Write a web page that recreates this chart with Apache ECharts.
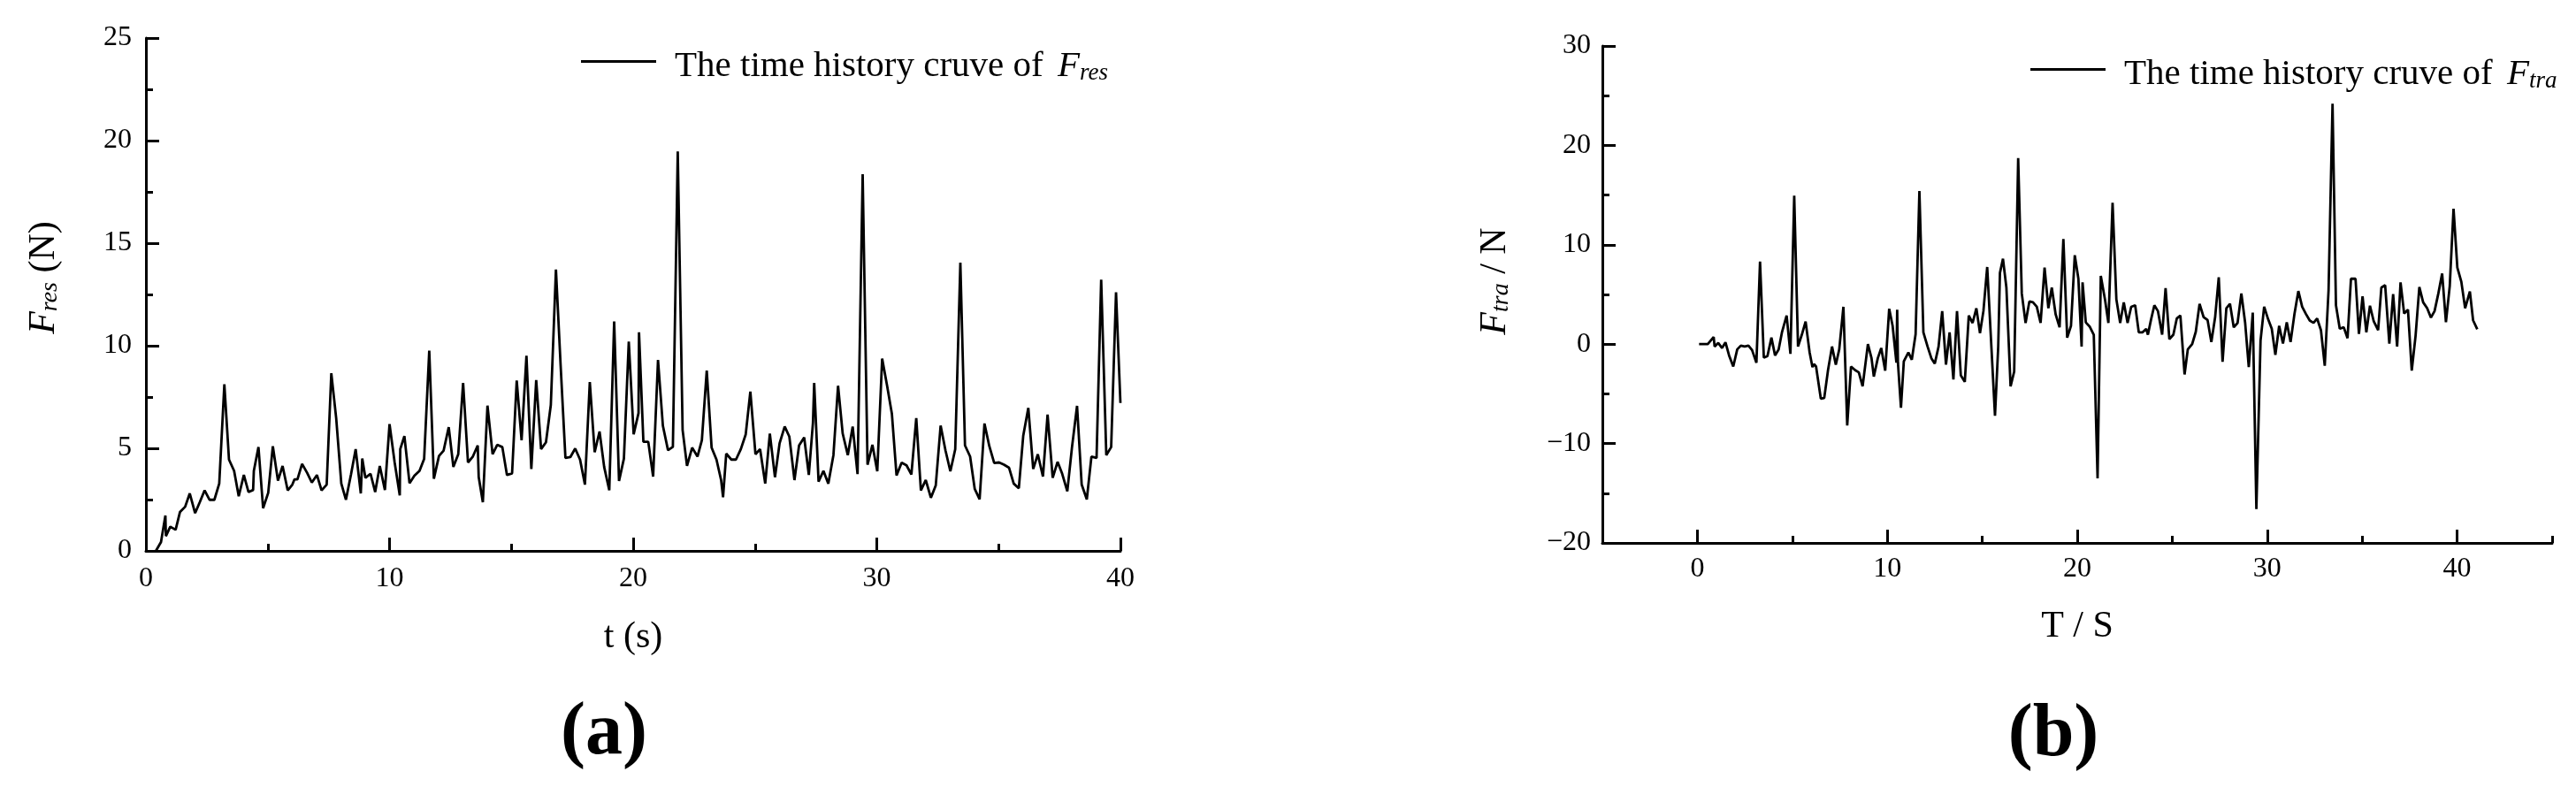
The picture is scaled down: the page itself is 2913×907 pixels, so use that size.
<!DOCTYPE html>
<html lang="en">
<head>
<meta charset="UTF-8">
<title>Time history curves</title>
<script src="https://cdn.jsdelivr.net/npm/echarts@6/dist/echarts.min.js"></script>
<style>
    html, body { margin: 0; padding: 0; background: #fff; }
    #main { width: 2913px; height: 907px; }
</style>
</head>
<body>
<div id="main"></div>
<script>
    // (a) resistance force
    var tRes = [0.41, 0.62, 0.80, 0.82, 1.00, 1.22, 1.40, 1.61, 1.80, 2.02, 2.21, 2.41, 2.61, 2.81, 3.01, 3.22, 3.41, 3.62, 3.81, 4.02,
        4.21, 4.40, 4.43, 4.62, 4.81, 5.02, 5.21, 5.42, 5.61, 5.82, 6.01, 6.10, 6.22, 6.41, 6.62, 6.81, 7.02, 7.21, 7.42, 7.61,
        7.81, 8.02, 8.21, 8.42, 8.61, 8.82, 8.88, 9.01, 9.22, 9.41, 9.60, 9.81, 10.00, 10.21, 10.42, 10.44, 10.61, 10.82, 11.02, 11.23,
        11.42, 11.63, 11.82, 12.03, 12.22, 12.43, 12.62, 12.82, 13.02, 13.22, 13.42, 13.62, 13.66, 13.83, 14.02, 14.23, 14.42, 14.63, 14.82, 15.03,
        15.22, 15.42, 15.62, 15.82, 16.02, 16.22, 16.42, 16.62, 16.83, 17.02, 17.22, 17.42, 17.62, 17.82, 18.02, 18.22, 18.42, 18.62, 18.81, 19.02,
        19.22, 19.42, 19.62, 19.82, 20.02, 20.22, 20.24, 20.42, 20.62, 20.82, 21.02, 21.22, 21.43, 21.63, 21.83, 22.03, 22.21, 22.42, 22.64, 22.82,
        23.02, 23.22, 23.42, 23.61, 23.69, 23.82, 24.03, 24.22, 24.42, 24.62, 24.81, 25.02, 25.21, 25.42, 25.61, 25.82, 26.01, 26.22, 26.41, 26.62,
        26.81, 27.02, 27.21, 27.38, 27.43, 27.61, 27.81, 28.01, 28.22, 28.41, 28.60, 28.81, 29.01, 29.21, 29.42, 29.62, 29.82, 30.02, 30.22, 30.42,
        30.62, 30.81, 31.02, 31.22, 31.42, 31.62, 31.81, 32.01, 32.22, 32.42, 32.62, 32.82, 33.02, 33.22, 33.43, 33.62, 33.83, 34.02, 34.22, 34.42,
        34.62, 34.82, 35.02, 35.22, 35.43, 35.62, 35.83, 36.01, 36.22, 36.42, 36.61, 36.82, 37.01, 37.22, 37.42, 37.61, 37.82, 38.01, 38.22, 38.41,
        38.62, 38.81, 39.02, 39.21, 39.42, 39.62, 39.82, 40.00];
    var fRes = [0, 0.43, 1.72, 0.72, 1.18, 1.03, 1.9, 2.15, 2.8, 1.84, 2.37, 2.95, 2.49, 2.49, 3.28, 8.12, 4.45, 3.9, 2.66, 3.7,
        2.87, 2.97, 3.9, 5.06, 2.08, 2.83, 5.1, 3.42, 4.14, 2.95, 3.23, 3.49, 3.49, 4.24, 3.8, 3.33, 3.7, 2.95, 3.23, 8.66,
        6.47, 3.28, 2.49, 3.74, 4.96, 2.8, 4.5, 3.56, 3.76, 2.87, 4.14, 2.97, 6.18, 4.31, 2.7, 4.96, 5.6, 3.3, 3.66, 3.9,
        4.48, 9.76, 3.52, 4.63, 4.89, 6.03, 4.09, 4.71, 8.19, 4.31, 4.6, 5.14, 3.6, 2.37, 7.08, 4.71, 5.17, 5.06, 3.7, 3.78,
        8.3, 5.39, 9.51, 3.99, 8.33, 4.96, 5.29, 7.11, 13.72, 9.1, 4.53, 4.57, 4.99, 4.45, 3.23, 8.23, 4.81, 5.82, 4.09, 2.95,
        11.18, 3.41, 4.5, 10.2, 5.68, 6.72, 10.66, 5.32, 5.32, 3.62, 9.31, 6.1, 4.91, 5.07, 19.47, 5.89, 4.14, 5.03, 4.6, 5.39,
        8.79, 5.03, 4.45, 3.45, 2.61, 4.74, 4.45, 4.45, 4.96, 5.68, 7.76, 4.71, 4.96, 3.28, 5.72, 3.59, 5.24, 6.06, 5.57, 3.45,
        5.14, 5.53, 3.7, 6.25, 8.19, 3.38, 3.9, 3.28, 4.67, 8.05, 5.72, 4.67, 6.06, 3.74, 18.36, 4.2, 5.17, 3.88, 9.37, 8.07,
        6.68, 3.68, 4.3, 4.17, 3.72, 6.47, 2.95, 3.45, 2.59, 3.19, 6.11, 4.89, 3.88, 4.96, 14.05, 5.14, 4.6, 3.02, 2.51, 6.21,
        5.1, 4.28, 4.31, 4.2, 4.05, 3.28, 3.05, 5.6, 6.97, 3.99, 4.71, 3.62, 6.64, 3.56, 4.34, 3.76, 2.9, 5.03, 7.07, 3.23,
        2.51, 4.6, 4.53, 13.22, 4.67, 5.06, 12.61, 7.21];

    // (b) traction force
    var tTra = [0.09, 0.55, 0.86, 0.91, 1.10, 1.30, 1.48, 1.67, 1.89, 2.10, 2.29, 2.49, 2.69, 2.88, 3.11, 3.30, 3.50, 3.69, 3.90, 4.09,
        4.28, 4.46, 4.51, 4.70, 4.90, 5.10, 5.30, 5.50, 5.70, 5.91, 6.06, 6.14, 6.25, 6.50, 6.68, 6.88, 7.09, 7.29, 7.47, 7.69,
        7.89, 8.09, 8.30, 8.50, 8.70, 8.98, 9.17, 9.29, 9.50, 9.68, 9.89, 10.10, 10.28, 10.48, 10.52, 10.56, 10.72, 10.87, 11.11, 11.29,
        11.49, 11.69, 11.90, 12.12, 12.32, 12.50, 12.70, 12.89, 13.09, 13.28, 13.48, 13.67, 13.87, 14.08, 14.29, 14.49, 14.69, 14.88, 15.06, 15.26,
        15.67, 15.84, 15.93, 16.09, 16.27, 16.49, 16.68, 16.89, 17.08, 17.28, 17.48, 17.67, 17.87, 18.07, 18.28, 18.48, 18.66, 18.86, 19.07, 19.27,
        19.47, 19.67, 19.87, 20.06, 20.23, 20.28, 20.45, 20.65, 20.87, 21.07, 21.24, 21.46, 21.64, 21.86, 22.06, 22.26, 22.45, 22.65, 22.84, 23.05,
        23.24, 23.44, 23.63, 23.72, 23.88, 24.06, 24.25, 24.47, 24.65, 24.85, 25.06, 25.24, 25.43, 25.65, 25.82, 26.05, 26.24, 26.44, 26.65, 26.86,
        27.06, 27.26, 27.45, 27.65, 27.85, 28.04, 28.24, 28.44, 28.64, 28.84, 29.03, 29.24, 29.43, 29.65, 29.84, 30.05, 30.24, 30.43, 30.63, 30.83,
        31.03, 31.23, 31.43, 31.64, 31.84, 32.04, 32.24, 32.44, 32.63, 32.83, 33.03, 33.23, 33.44, 33.62, 33.82, 34.03, 34.23, 34.41, 34.65, 34.83,
        35.02, 35.22, 35.41, 35.61, 35.84, 36.01, 36.21, 36.43, 36.63, 36.84, 37.02, 37.21, 37.41, 37.61, 37.81, 38.01, 38.21, 38.42, 38.62, 38.81,
        39.01, 39.21, 39.41, 39.61, 39.81, 40.01, 40.22, 40.42, 40.67, 40.84, 41.06];
    var fTra = [0, 0, 0.71, -0.24, 0.12, -0.39, 0.18, -1.13, -2.25, -0.53, -0.15, -0.24, -0.15, -0.59, -1.87, 8.3, -1.36, -1.21, 0.65, -1.13,
        -0.53, 1.24, 1.39, 2.87, -0.98, 14.93, -0.24, 0.95, 2.28, -0.83, -2.31, -2.01, -2.25, -5.48, -5.42, -2.61, -0.24, -2.07, -0.53, 3.76,
        -8.18, -2.25, -2.61, -2.84, -4.24, 0, -1.42, -3.26, -1.42, -0.39, -2.67, 3.56, 1.84, -1.87, 3.47, -1.87, -6.4, -1.72, -0.83, -1.57,
        1.0, 15.4, 1.19, -0.24, -1.42, -1.96, -0.24, 3.32, -2.07, 1.19, -3.56, 3.32, -3.14, -3.79, 2.87, 2.13, 3.61, 1.1, 3.32, 7.76,
        -7.2, -0.24, 7.17, 8.59, 5.69, -4.24, -2.76, 18.73, 5.1, 2.13, 4.3, 4.21, 3.76, 2.13, 7.7, 3.61, 5.69, 3.02, 1.69, 10.58,
        0.65, 1.84, 8.95, 6.58, -0.24, 6.22, 2.19, 1.78, 0.95, -13.5, 6.87, 4.5, 2.13, 14.22, 4.5, 2.13, 4.21, 2.13, 3.76, 3.91,
        1.19, 1.19, 1.54, 0.95, 2.43, 3.91, 3.32, 0.95, 5.63, 0.5, 0.95, 2.58, 2.87, -3.05, -0.53, 0, 1.24, 4.06, 2.73, 2.43,
        0.21, 2.73, 6.73, -1.78, 3.61, 4.06, 1.69, 2.13, 5.1, 2.13, -2.31, 3.17, -16.6, 0.36, 3.76, 2.5, 1.55, -1.07, 1.84, 0.06,
        2.2, 0.21, 2.97, 5.34, 3.77, 3.03, 2.37, 2.14, 2.58, 1.4, -2.17, 5.4, 24.2, 3.91, 1.55, 1.7, 0.6, 6.58, 6.58, 1.02,
        4.8, 1.19, 3.86, 2.29, 1.4, 5.69, 5.93, 0.06, 5.04, -0.24, 6.22, 3.08, 3.47, -2.66, 0.81, 5.75, 4.21, 3.62, 2.67, 3.32,
        5.1, 7.11, 2.2, 5.84, 13.63, 7.7, 6.28, 3.62, 5.3, 2.4, 1.5];

    var xLabelsTra = [0, 10, 20, 30, 40];

    function pairs(t, v) {
        var out = [];
        for (var i = 0; i < t.length; i++) out.push([t[i], v[i]]);
        return out;
    }

    var serif = '"Liberation Serif", "Times New Roman", Times, serif';
    var black = '#000';

    function axisBase() {
        return {
            type: 'value',
            splitLine: {show: false},
            axisLine: {onZero: false, lineStyle: {color: black, width: 3}},
            axisTick: {inside: true, length: 15, lineStyle: {color: black, width: 3}},
            minorTick: {show: true, splitNumber: 2, length: 8, lineStyle: {color: black, width: 3}},
            axisLabel: {color: black, fontSize: 32, fontFamily: serif},
            nameTextStyle: {color: black, fontSize: 42, fontFamily: serif}
        };
    }

    function subName(sym, sub, rest) {
        return '{f|' + sym + '}{s|' + sub + '}{n|' + rest + '}';
    }
    var nameRich = {
        f: {fontStyle: 'italic', fontSize: 42, fontFamily: serif, color: black},
        s: {fontStyle: 'italic', fontSize: 28, fontFamily: serif, color: black, verticalAlign: 'bottom', lineHeight: 16},
        n: {fontSize: 42, fontFamily: serif, color: black}
    };

    var xa = axisBase();
    xa.gridIndex = 0; xa.min = 0; xa.max = 40; xa.interval = 10;
    xa.axisLabel.margin = 16;
    xa.name = 't (s)'; xa.nameLocation = 'middle'; xa.nameGap = 77;

    var ya = axisBase();
    ya.gridIndex = 0; ya.min = 0; ya.max = 25; ya.interval = 5;
    ya.axisLabel.margin = 16;
    ya.name = subName('F', 'res', ' (N)'); ya.nameLocation = 'middle'; ya.nameRotate = 90; ya.nameGap = 94;
    ya.nameTextStyle.rich = nameRich;
    ya.nameTextStyle.padding = [0, 0, 0, 38];

    var xb = axisBase();
    xb.gridIndex = 1; xb.min = -5; xb.max = 45; xb.interval = 10;
    // ticks fall on -5, 5, ... (short); the long ones sit on the minor positions 0, 10, ...
    xb.axisTick.length = 8;
    xb.minorTick.length = 15;
    xb.axisLabel.margin = 14;
    xb.axisLabel.customValues = xLabelsTra;
    xb.name = 'T / S'; xb.nameLocation = 'middle'; xb.nameGap = 74;

    var yb = axisBase();
    yb.gridIndex = 1; yb.min = -20; yb.max = 30; yb.interval = 10;
    yb.axisLabel.margin = 13;
    yb.axisLabel.formatter = function (v) { return v < 0 ? '\u2212' + (-v) : '' + v; };
    yb.name = subName('F', 'tra', ' / N'); yb.nameLocation = 'middle'; yb.nameRotate = 90; yb.nameGap = 100;
    yb.nameTextStyle.rich = nameRich;
    yb.nameTextStyle.padding = [0, 0, 0, 30];

    function legendFor(name, sub, left, top) {
        return {
            data: [name],
            left: left,
            top: top,
            padding: 0,
            icon: 'rect',
            itemWidth: 85,
            itemHeight: 3,
            selectedMode: false,
            formatter: function () {
                return '{a|The time history cruve of }{f|F}{s|' + sub + '}';
            },
            textStyle: {
                padding: [12, 0, 0, 16],
                rich: {
                    a: {fontSize: 41, fontFamily: serif, color: black},
                    f: {fontSize: 41, fontFamily: serif, fontStyle: 'italic', color: black, padding: [0, 0, 0, 6]},
                    s: {fontSize: 27, fontFamily: serif, fontStyle: 'italic', color: black, verticalAlign: 'bottom', lineHeight: 10}
                }
            }
        };
    }

    var option = {
        animation: false,
        backgroundColor: '#fff',
        grid: [
            {left: 165, top: 43, width: 1102, height: 580, outerBoundsMode: 'none'},
            {left: 1812, top: 52, width: 1074, height: 562, outerBoundsMode: 'none'}
        ],
        xAxis: [xa, xb],
        yAxis: [ya, yb],
        legend: [
            legendFor('Fres', 'res', 657, 55),
            legendFor('Ftra', 'tra', 2296, 64)
        ],
        graphic: [
            {type: 'text', x: 683, y: 830, style: {text: '(a)', fontSize: 84, fontWeight: 'bold', fontFamily: serif, fill: black, align: 'center', verticalAlign: 'middle'}},
            {type: 'text', x: 2322, y: 832, style: {text: '(b)', fontSize: 84, fontWeight: 'bold', fontFamily: serif, fill: black, align: 'center', verticalAlign: 'middle'}}
        ],
        series: [
            {
                name: 'Fres', type: 'line', xAxisIndex: 0, yAxisIndex: 0,
                data: pairs(tRes, fRes), symbol: 'none',
                lineStyle: {color: black, width: 2.8}, itemStyle: {color: black}
            },
            {
                name: 'Ftra', type: 'line', xAxisIndex: 1, yAxisIndex: 1,
                data: pairs(tTra, fTra), symbol: 'none',
                lineStyle: {color: black, width: 2.8}, itemStyle: {color: black}
            }
        ]
    };

    var myChart = echarts.init(document.getElementById('main'));
    myChart.setOption(option);
</script>
</body>
</html>
